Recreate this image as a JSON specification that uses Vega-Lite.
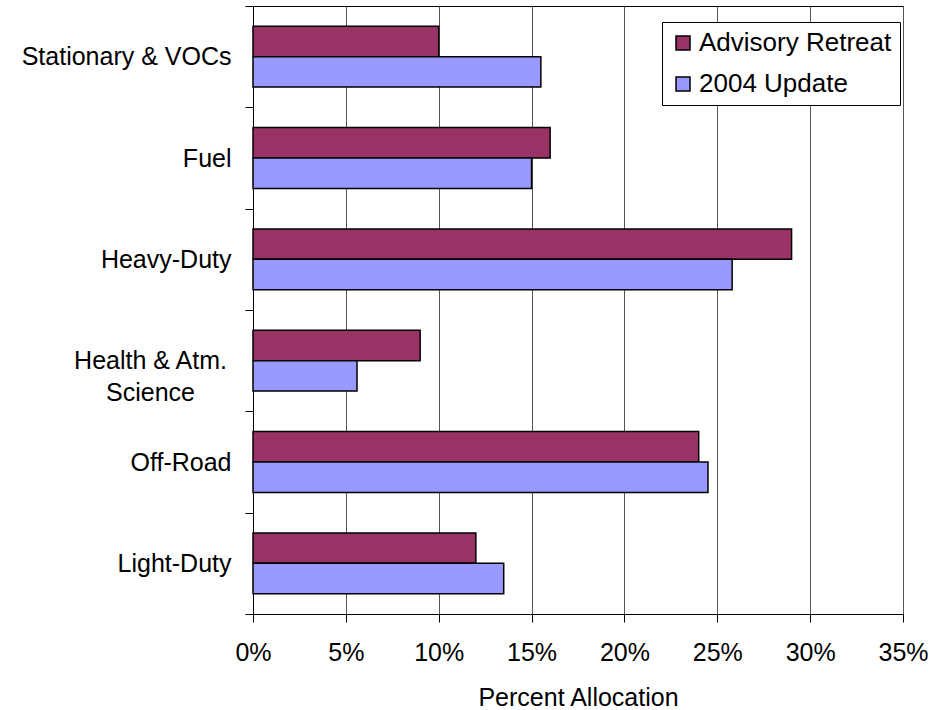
{
  "$schema": "https://vega.github.io/schema/vega-lite/v6.json",
  "width": 650,
  "height": 608,
  "autosize": "none",
  "padding": {"left": 253, "top": 6, "right": 27, "bottom": 96},
  "background": "white",
  "config": {"view": {"stroke": "black", "strokeWidth": 1}, "font": "Liberation Sans"},
  "data": {
    "values": [
      {"category": "Stationary & VOCs", "series": "Advisory Retreat", "value": 0.10},
      {"category": "Stationary & VOCs", "series": "2004 Update", "value": 0.155},
      {"category": "Fuel", "series": "Advisory Retreat", "value": 0.16},
      {"category": "Fuel", "series": "2004 Update", "value": 0.15},
      {"category": "Heavy-Duty", "series": "Advisory Retreat", "value": 0.29},
      {"category": "Heavy-Duty", "series": "2004 Update", "value": 0.258},
      {"category": "Health & Atm. Science", "series": "Advisory Retreat", "value": 0.09},
      {"category": "Health & Atm. Science", "series": "2004 Update", "value": 0.056},
      {"category": "Off-Road", "series": "Advisory Retreat", "value": 0.24},
      {"category": "Off-Road", "series": "2004 Update", "value": 0.245},
      {"category": "Light-Duty", "series": "Advisory Retreat", "value": 0.12},
      {"category": "Light-Duty", "series": "2004 Update", "value": 0.135}
    ]
  },
  "mark": {"type": "bar", "stroke": "black", "strokeWidth": 1.5},
  "encoding": {
    "y": {
      "field": "category",
      "type": "nominal",
      "sort": ["Stationary & VOCs", "Fuel", "Heavy-Duty", "Health & Atm. Science", "Off-Road", "Light-Duty"],
      "scale": {"paddingInner": 0, "paddingOuter": 0},
      "axis": {
        "title": null,
        "tickBand": "extent",
        "tickSize": 8,
        "tickColor": "black",
        "domainColor": "black",
        "labelFontSize": 25,
        "labelColor": "black",
        "labelLimit": 400,
        "labelPadding": {"condition": {"test": "datum.value === 'Health & Atm. Science'", "value": 95}, "value": 14},
        "labelAlign": {"condition": {"test": "datum.value === 'Health & Atm. Science'", "value": "center"}, "value": "right"},
        "labelExpr": "datum.value === 'Health & Atm. Science' ? ['Health & Atm.', 'Science'] : datum.value",
        "labelLineHeight": 32,
        "grid": false
      }
    },
    "yOffset": {
      "field": "series",
      "sort": ["Advisory Retreat", "2004 Update"],
      "scale": {"paddingInner": 0, "paddingOuter": 0.667}
    },
    "x": {
      "field": "value",
      "type": "quantitative",
      "scale": {"domain": [0, 0.35]},
      "axis": {
        "title": "Percent Allocation",
        "format": ".0%",
        "values": [0, 0.05, 0.1, 0.15, 0.2, 0.25, 0.3, 0.35],
        "grid": true,
        "gridColor": "#555555",
        "tickSize": 8,
        "tickColor": "black",
        "domainColor": "black",
        "labelFontSize": 25,
        "labelColor": "black",
        "labelFlush": false,
        "labelPadding": 18,
        "titleFontSize": 25,
        "titleFontWeight": "normal",
        "titleColor": "black",
        "titlePadding": 20
      }
    },
    "color": {
      "field": "series",
      "type": "nominal",
      "sort": ["Advisory Retreat", "2004 Update"],
      "scale": {"domain": ["Advisory Retreat", "2004 Update"], "range": ["#993366", "#9999FF"]},
      "legend": {
        "title": null,
        "orient": "none",
        "legendX": 409,
        "legendY": 16,
        "direction": "vertical",
        "symbolType": "square",
        "symbolSize": 196,
        "symbolStrokeColor": "black",
        "symbolStrokeWidth": 1.5,
        "symbolOpacity": 1,
        "labelFontSize": 26,
        "labelColor": "black",
        "labelOffset": 3,
        "labelLimit": 400,
        "strokeColor": "black",
        "fillColor": "white",
        "padding": 8,
        "rowPadding": 15
      }
    }
  }
}
